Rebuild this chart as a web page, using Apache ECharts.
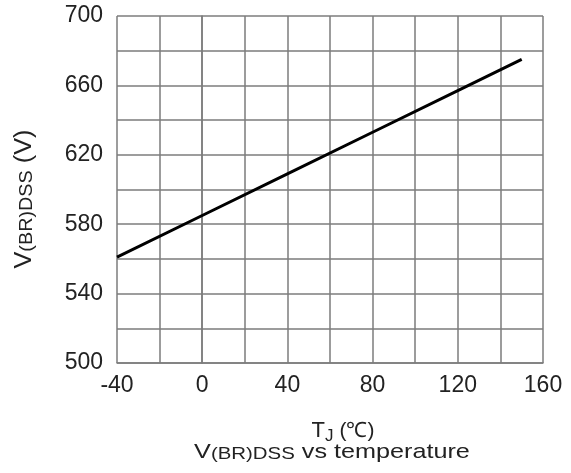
<!DOCTYPE html>
<html>
<head>
<meta charset="utf-8">
<script src="https://cdn.jsdelivr.net/npm/echarts@6/dist/echarts.min.js"></script>
<style>html,body{margin:0;padding:0;background:#fff;}#c{width:571px;height:473px;}</style>
</head>
<body>
<div id="c"></div>
<script>
// Data
var temperature = [-40, 0, 40, 80, 120, 150];
var vbrdss = [561, 585, 609, 633, 657, 675];
var xTicks = [-40, 0, 40, 80, 120, 160];
var yTicks = [500, 540, 580, 620, 660, 700];

var FONT = 'Arial, "Liberation Sans", sans-serif';
var TXT = '#222';
var GRID = '#7c7c7c';

var chart = echarts.init(document.getElementById('c'), null, {renderer: 'canvas'});
var lineStyle = {color: GRID, width: 1.5};
chart.setOption({
  animation: false,
  backgroundColor: '#fff',
  grid: {left: 117, right: 28, top: 16, bottom: 110, containLabel: false},
  xAxis: {
    type: 'value',
    min: xTicks[0], max: xTicks[xTicks.length - 1], interval: 40,
    axisLine: {show: true, lineStyle: lineStyle},
    axisTick: {show: false},
    axisLabel: {fontSize: 23, color: TXT, fontFamily: FONT, margin: 11},
    splitLine: {show: true, lineStyle: lineStyle},
    minorTick: {show: false, splitNumber: 2},
    minorSplitLine: {show: true, lineStyle: lineStyle}
  },
  yAxis: {
    type: 'value',
    min: yTicks[0], max: yTicks[yTicks.length - 1], interval: 40,
    axisLine: {show: true, lineStyle: lineStyle},
    axisTick: {show: false},
    axisLabel: {fontSize: 23, color: TXT, fontFamily: FONT, margin: 14},
    splitLine: {show: true, lineStyle: lineStyle},
    minorTick: {show: false, splitNumber: 2},
    minorSplitLine: {show: true, lineStyle: lineStyle}
  },
  series: [{
    type: 'line',
    data: temperature.map(function (t, i) { return [t, vbrdss[i]]; }),
    showSymbol: false,
    symbol: 'none',
    lineStyle: {color: '#000', width: 3},
    z: 5
  }],
  graphic: [
    {
      type: 'text', x: 25, y: 199, rotation: Math.PI / 2, scaleX: 1.1,
      style: {
        text: '{a|V}{b|(BR)DSS}{a| (V)}',
        align: 'center', verticalAlign: 'middle',
        fill: TXT, fontFamily: FONT,
        rich: {
          a: {fontSize: 23, fontFamily: FONT, fill: TXT, verticalAlign: 'bottom'},
          b: {fontSize: 18, fontFamily: FONT, fill: TXT, verticalAlign: 'bottom'}
        }
      }
    },
    {
      type: 'text', x: 343, y: 431,
      style: {
        text: '{a|T}{s|J}{c| (℃)}',
        align: 'center', verticalAlign: 'middle',
        fill: TXT, fontFamily: FONT,
        rich: {
          a: {fontSize: 22, fontFamily: FONT, fill: TXT, verticalAlign: 'bottom'},
          s: {fontSize: 17, fontFamily: FONT, fill: TXT, verticalAlign: 'bottom', padding: [0, 0, -3, 0]},
          c: {fontSize: 21, fontFamily: FONT, fill: TXT, verticalAlign: 'bottom'}
        }
      }
    },
    {
      type: 'text', x: 332, y: 452, scaleX: 1.2,
      style: {
        text: '{a|V}{b|(BR)DSS}{a| vs temperature}',
        align: 'center', verticalAlign: 'middle',
        fill: TXT, fontFamily: FONT,
        rich: {
          a: {fontSize: 21, fontFamily: FONT, fill: TXT, verticalAlign: 'bottom'},
          b: {fontSize: 17, fontFamily: FONT, fill: TXT, verticalAlign: 'bottom'}
        }
      }
    }
  ]
});
</script>
</body>
</html>
